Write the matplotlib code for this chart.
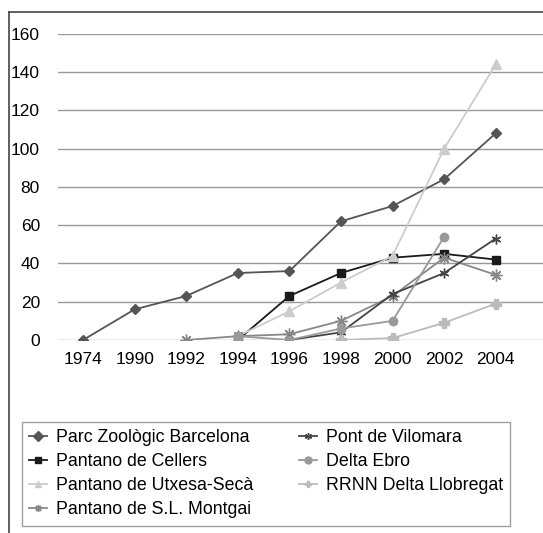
import matplotlib
matplotlib.use("Agg")
import matplotlib.pyplot as plt
import numpy as np
from matplotlib.lines import Line2D

plt.rcParams['font.family'] = ['Liberation Sans', 'DejaVu Sans']

years = ["1974", "1990", "1992", "1994", "1996", "1998", "2000", "2002", "2004"]
nan = np.nan
parc = [0, 16, 23, 35, 36, 62, 70, 84, 108]
cellers = [nan, nan, nan, 0, 23, 35, 43, 45, 42]
utxesa = [nan, nan, nan, 2, 15, 30, 44, 100, 144]
montgai = [nan, nan, 0, 2, 3, 10, 23, 43, 34]
vilomara = [nan, nan, nan, nan, 0, 4, 24, 35, 53]
ebro = [nan, nan, nan, 2, 0, 6, 10, 54, nan]
llobregat = [nan, nan, nan, nan, nan, 0, 1, 9, 19]
yticks = [0, 20, 40, 60, 80, 100, 120, 140, 160]

W, H = 543, 533
fig = plt.figure(figsize=(W/100, H/100), dpi=100)
y0px, y160px = 340, 33.7
ax = fig.add_axes([58/W, 1-y0px/H, 1-58/W, (y0px-y160px)/H])
x = np.arange(len(years))

series = [
    ("Parc Zoològic Barcelona", parc, "#555555", "D", 5.5),
    ("Pantano de Cellers", cellers, "#1a1a1a", "s", 6),
    ("Pantano de Utxesa-Secà", utxesa, "#cccccc", "^", 7.5),
    ("Pantano de S.L. Montgai", montgai, "#888888", (8, 2, 0), 8.5),
    ("Pont de Vilomara", vilomara, "#444444", (6, 2, 0), 7),
    ("Delta Ebro", ebro, "#999999", "o", 6),
    ("RRNN Delta Llobregat", llobregat, "#bbbbbb", "P", 6.5),
]
for name, vals, c, m, ms in series:
    ax.plot(x, vals, color=c, marker=m, markersize=ms, linewidth=1.3,
            markeredgecolor=c, markerfacecolor=c, label=name)

ax.set_ylim(0, 160)
ax.set_yticks(yticks)
ax.set_xticks(x)
ax.set_xticklabels(years)
ax.set_xlim((58-83)/51.6, (543-83)/51.6)
ax.grid(axis='y', color='#999999', linewidth=1)
ax.set_axisbelow(True)
for s in ax.spines.values():
    s.set_visible(False)
ax.tick_params(length=0, labelsize=12.5)
ax.tick_params(axis='x', pad=9)
ax.tick_params(axis='y', pad=13)

# outer frame (top and left)
fig.add_artist(Line2D([9/W, 1], [1-12/H, 1-12/H], color='#444444', linewidth=1.2))
fig.add_artist(Line2D([9/W, 9/W], [0, 1-12/H], color='#444444', linewidth=1.2))

leg = fig.legend(loc='upper left', bbox_to_anchor=(22/W, 1-422/H),
                 ncol=2, fontsize=12.8, frameon=True, fancybox=False,
                 edgecolor='#888888', handlelength=1.0, handletextpad=0.5,
                 labelspacing=0.4, borderaxespad=0, borderpad=0.4, columnspacing=2.6)
leg.get_frame().set_linewidth(1)
for h in leg.legend_handles:
    h.set_markersize(5)

fig.savefig("out.png", dpi=100)
